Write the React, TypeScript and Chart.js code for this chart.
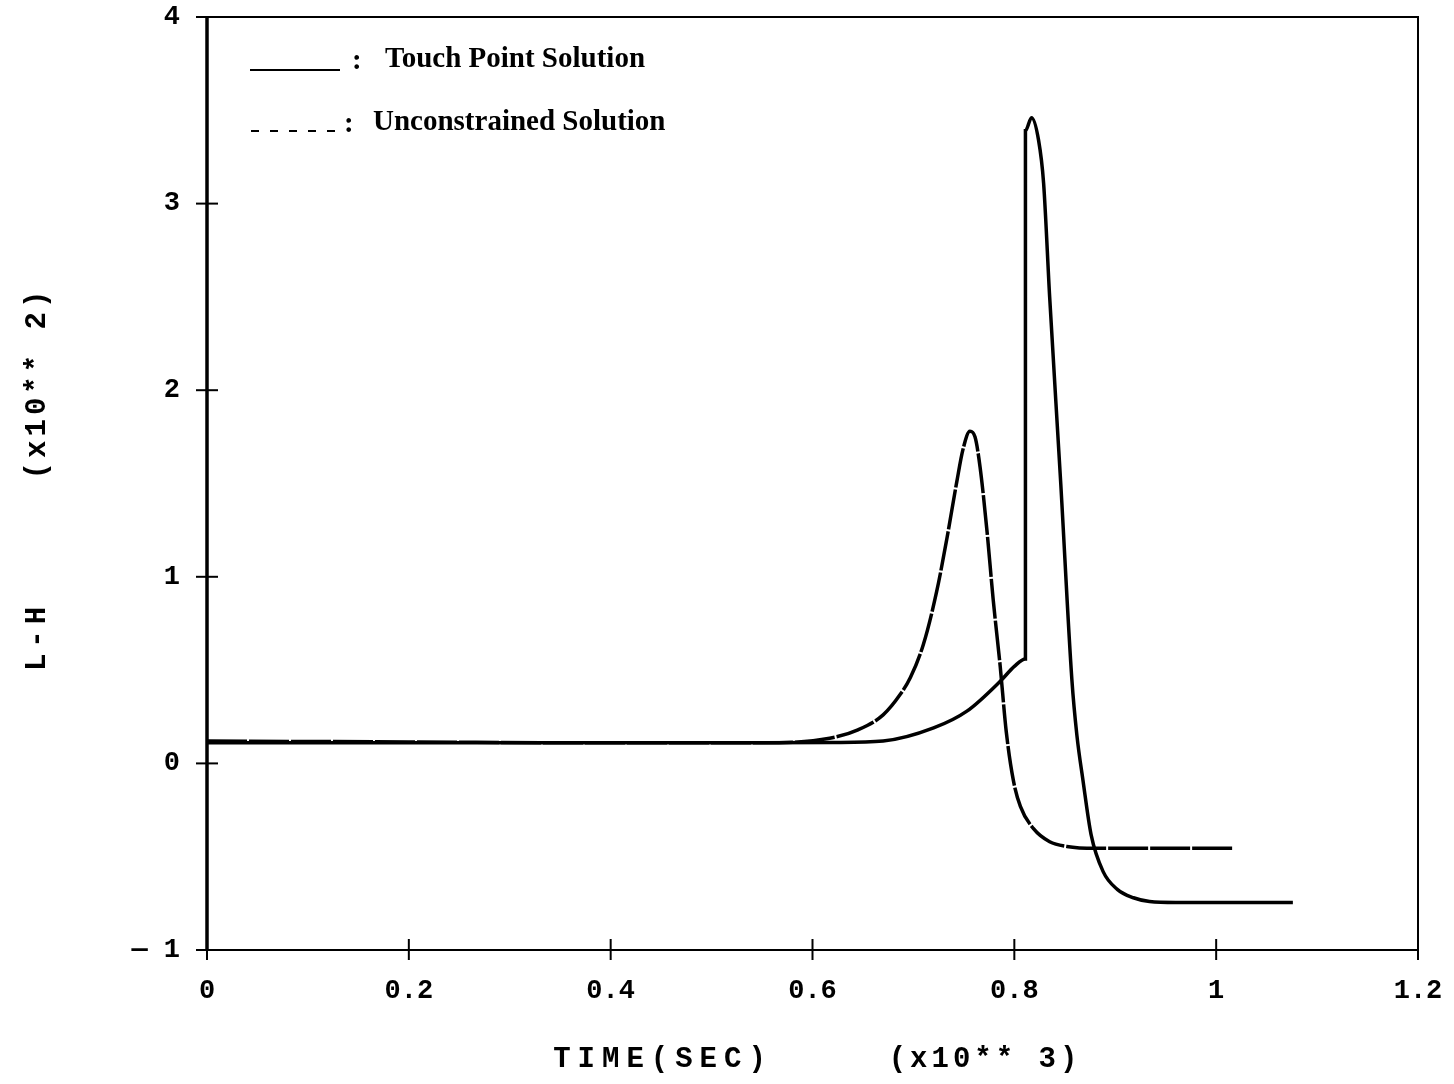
import React, { useEffect, useRef } from "react";
import { Chart, registerables } from "chart.js";

Chart.register(...registerables);

// Touch Point Solution (solid)
const touchX = [0, 0.2, 0.4, 0.55, 0.62, 0.67, 0.72, 0.753, 0.786, 0.8, 0.811, 0.811, 0.817, 0.824, 0.829, 0.835, 0.846, 0.857, 0.862, 0.868, 0.876, 0.888, 0.902, 0.918, 0.934, 0.96, 1.076];
const touchY = [0.11, 0.11, 0.11, 0.11, 0.112, 0.12, 0.19, 0.28, 0.44, 0.52, 0.56, 3.39, 3.46, 3.34, 3.11, 2.5, 1.5, 0.45, 0.15, -0.09, -0.38, -0.58, -0.675, -0.72, -0.74, -0.745, -0.745];

// Unconstrained Solution (dashed)
const unconX = [0, 0.2, 0.4, 0.55, 0.617, 0.645, 0.67, 0.687, 0.697, 0.71, 0.723, 0.733, 0.743, 0.749, 0.756, 0.761, 0.766, 0.773, 0.779, 0.786, 0.792, 0.799, 0.806, 0.819, 0.835, 0.852, 0.88, 1.017];
const unconY = [0.12, 0.115, 0.11, 0.11, 0.135, 0.18, 0.26, 0.37, 0.46, 0.64, 0.92, 1.2, 1.51, 1.68, 1.78, 1.75, 1.59, 1.24, 0.88, 0.52, 0.17, -0.09, -0.23, -0.35, -0.42, -0.445, -0.455, -0.455];

const seriesNames = ["Touch Point Solution", "Unconstrained Solution"];
const xTitle = ["TIME(SEC)", "(x10** 3)"];
const yTitle = ["L-H", "(x10** 2)"];

const X_MIN = 0, X_MAX = 1.2, X_STEP = 0.2;
const Y_MIN = -1, Y_MAX = 4, Y_STEP = 1;

const TICK_FONT = "'Liberation Mono', 'DejaVu Sans Mono', monospace";
const SERIF = "'Liberation Serif', 'DejaVu Serif', serif";

const decorPlugin = {
  id: "decor",
  afterDraw(chart: any) {
    const ctx = chart.ctx as CanvasRenderingContext2D;
    const { left, right, top, bottom } = chart.chartArea;
    const xs = chart.scales.x;
    const ys = chart.scales.y;
    ctx.save();
    ctx.strokeStyle = "#000";
    // frame
    ctx.lineWidth = 2;
    ctx.beginPath();
    ctx.moveTo(left, top);
    ctx.lineTo(right, top);
    ctx.lineTo(right, bottom);
    ctx.lineTo(left, bottom);
    ctx.stroke();
    ctx.lineWidth = 3.5;
    ctx.beginPath();
    ctx.moveTo(left, top);
    ctx.lineTo(left, bottom);
    ctx.stroke();
    // cross ticks
    ctx.lineWidth = 2;
    xs.ticks.forEach((t: any) => {
      const px = xs.getPixelForValue(t.value);
      ctx.beginPath();
      ctx.moveTo(px, bottom - 11);
      ctx.lineTo(px, bottom + 10);
      ctx.stroke();
    });
    ys.ticks.forEach((t: any) => {
      const py = ys.getPixelForValue(t.value);
      ctx.beginPath();
      ctx.moveTo(left - 11, py);
      ctx.lineTo(left + 11, py);
      ctx.stroke();
    });
    // legend samples
    ctx.lineWidth = 2;
    ctx.beginPath();
    ctx.moveTo(250, 70);
    ctx.lineTo(340, 70);
    ctx.stroke();
    for (let i = 0; i < 5; i++) {
      ctx.beginPath();
      ctx.moveTo(251 + i * 19, 131);
      ctx.lineTo(259 + i * 19, 131);
      ctx.stroke();
    }
    ctx.fillStyle = "#000";
    ctx.textBaseline = "middle";
    ctx.textAlign = "left";
    ctx.font = `bold 29px ${SERIF}`;
    ctx.fillText(":", 352, 62);
    ctx.fillText(seriesNames[0], 385, 60);
    ctx.fillText(":", 344, 125);
    ctx.fillText(seriesNames[1], 373, 123);
    // axis titles
    ctx.font = `bold 29px ${TICK_FONT}`;
    (ctx as any).letterSpacing = "7px";
    ctx.textAlign = "center";
    ctx.fillText(xTitle[0], 663, 1060);
    (ctx as any).letterSpacing = "4px";
    ctx.fillText(xTitle[1], 985, 1060);
    ctx.save();
    ctx.translate(38, 0);
    ctx.rotate(-Math.PI / 2);
    (ctx as any).letterSpacing = "6px";
    ctx.fillText(yTitle[0], -636, 0);
    (ctx as any).letterSpacing = "4px";
    ctx.fillText(yTitle[1], -383, 0);
    ctx.restore();
    ctx.restore();
  },
};

const zeroPad = (s: any) => {
  s.paddingTop = 0;
  s.paddingBottom = 0;
  s.paddingLeft = 0;
  s.paddingRight = 0;
};

export default function App() {
  const ref = useRef<HTMLCanvasElement | null>(null);
  useEffect(() => {
    if (!ref.current) return;
    const chart = new Chart(ref.current, {
      type: "line",
      data: {
        datasets: [
          {
            label: seriesNames[0],
            data: touchX.map((x, i) => ({ x, y: touchY[i] })),
            borderColor: "#000",
            borderWidth: 3.5,
            pointRadius: 0,
            cubicInterpolationMode: "monotone",
            fill: false,
          },
          {
            label: seriesNames[1],
            data: unconX.map((x, i) => ({ x, y: unconY[i] })),
            borderColor: "#000",
            borderWidth: 3.5,
            borderDash: [40, 2],
            pointRadius: 0,
            cubicInterpolationMode: "monotone",
            fill: false,
          },
        ],
      },
      options: {
        responsive: false,
        animation: false,
        layout: { padding: { top: 17, right: 36, left: 0, bottom: 0 } },
        plugins: { legend: { display: false }, tooltip: { enabled: false } },
        scales: {
          x: {
            type: "linear",
            min: X_MIN,
            max: X_MAX,
            afterFit: (s: any) => { s.height = 134; zeroPad(s); },
            grid: { display: false, drawTicks: false },
            border: { display: false },
            ticks: {
              stepSize: X_STEP,
              padding: 25,
              color: "#000",
              font: { family: TICK_FONT, size: 27, weight: "bold" },
              maxRotation: 0,
              callback: (v: any) => String(Math.round(Number(v) * 10) / 10),
            },
          },
          y: {
            type: "linear",
            min: Y_MIN,
            max: Y_MAX,
            afterFit: (s: any) => { s.width = 207; zeroPad(s); },
            grid: { display: false, drawTicks: false },
            border: { display: false },
            ticks: {
              stepSize: Y_STEP,
              padding: 27,
              color: "#000",
              font: { family: TICK_FONT, size: 27, weight: "bold" },
              callback: (v: any) => (Number(v) < 0 ? "\u2014 " + String(Math.abs(Number(v))) : String(v)),
            },
          },
        },
      },
      plugins: [decorPlugin],
    });
    return () => chart.destroy();
  }, []);
  return (
    <div style={{ position: "fixed", left: 0, top: 0, width: 1454, height: 1084, background: "#fff" }}>
      <canvas ref={ref} width={1454} height={1084} style={{ width: 1454, height: 1084 }} />
    </div>
  );
}
